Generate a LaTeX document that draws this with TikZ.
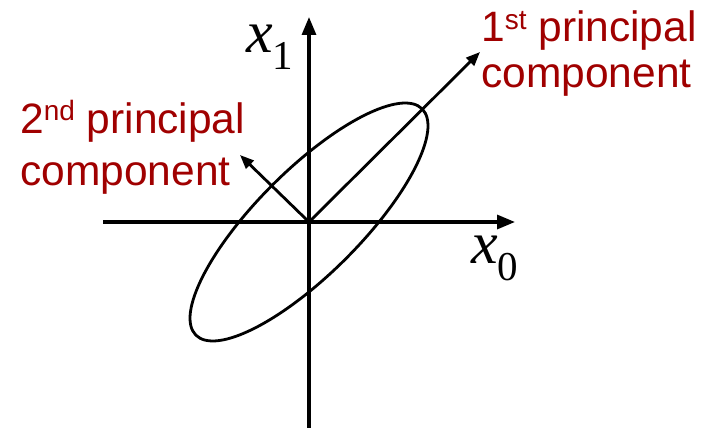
\documentclass[tikz,border=0pt]{standalone}
\usepackage{fontspec}
\setmainfont{Liberation Serif}
\newfontfamily\labelfont{Liberation Sans}
\usetikzlibrary{arrows.meta}
\definecolor{pcred}{RGB}{160,0,0}
\tikzset{
  axis/.style={line width=3.2pt,-{Triangle[length=18pt,width=14pt]}},
  pcarrow/.style={line width=2.8pt,-{Triangle[length=14pt,width=11pt]}},
  pclabel/.style={inner sep=0pt,anchor=base west,text=pcred,font=\labelfont\fontsize{42.5}{42.5}\selectfont},
  axlabel/.style={inner sep=0pt,anchor=base west,font=\fontsize{60}{60}\selectfont\itshape}
}
\newcommand{\supx}[1]{\raisebox{13pt}{\fontsize{28}{28}\selectfont #1}}
\newcommand{\subx}[1]{\raisebox{-17pt}{\fontsize{41}{41}\selectfont\upshape #1}}
\begin{document}
\begin{tikzpicture}[x=1pt,y=-1pt]
\useasboundingbox (0,0) rectangle (702,428);
\coordinate (o) at (309,222);
\coordinate (vb) at (309,428);
\coordinate (vt) at (309,17);
\coordinate (hl) at (103,222);
\coordinate (hr) at (515,222);
\coordinate (p1) at (480,52);
\coordinate (p2) at (240,155);
\draw[axis] (vb) -- (vt);
\draw[axis] (hl) -- (hr);
\draw[line width=2.8pt,rotate around={45:(o)}] (o) ellipse [x radius=160, y radius=52];
\draw[pcarrow] (o) -- (p1);
\draw[pcarrow] (o) -- (p2);
\node[axlabel] (xa) at (246,53) {x\subx{1}};
\node[axlabel] (xb) at (471,263) {x\subx{0}};
\node[pclabel] (r1) at (481,42) {1\supx{st} principal};
\node[pclabel] (r2) at (481,88) {component};
\node[pclabel] (l1) at (20,133) {2\supx{nd} principal};
\node[pclabel] (l2) at (20,185) {component};
\end{tikzpicture}
\end{document}
